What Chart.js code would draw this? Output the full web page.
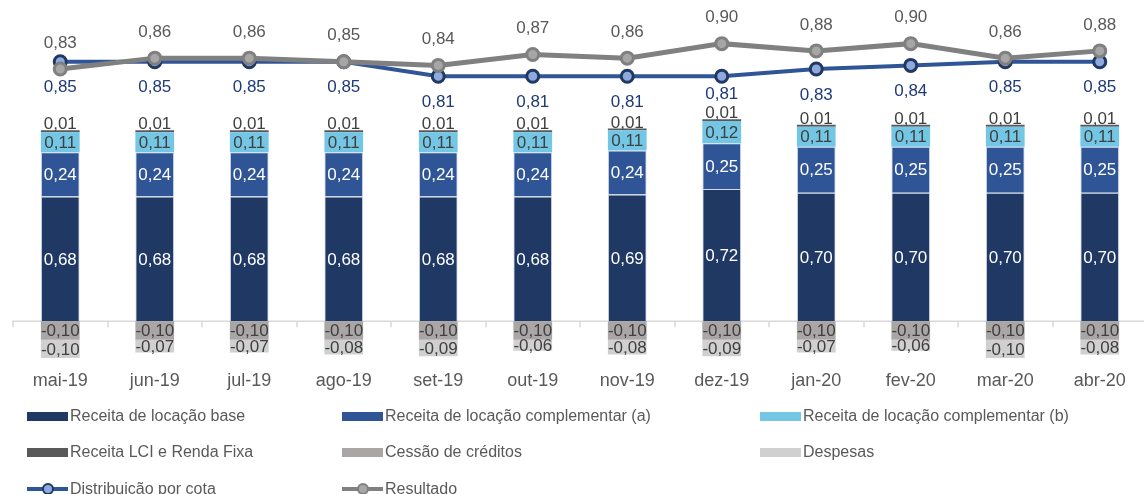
<!DOCTYPE html>
<html>
<head>
<meta charset="utf-8">
<script src="https://cdn.jsdelivr.net/npm/chart.js@4.4.0/dist/chart.umd.min.js"></script>
<style>
html,body{margin:0;padding:0;background:#fff;overflow:hidden;}
#wrap{position:relative;width:1144px;height:494px;overflow:hidden;}
#c{position:absolute;left:0;top:0;}
#legend{position:absolute;left:0;top:0;width:1144px;height:494px;pointer-events:none;font-family:'Liberation Sans',Arial,sans-serif;font-size:16px;color:#595959;}
.li{position:absolute;white-space:nowrap;height:20px;line-height:20px;}
.box{position:absolute;left:0;top:6px;width:41px;height:9px;}
.ln{position:absolute;left:0;top:8px;width:41px;height:4px;}
.dot{position:absolute;left:15px;top:4px;width:8px;height:8px;border-radius:50%;border-width:2px;border-style:solid;}
.tx{position:absolute;left:43px;top:0;}
</style>
</head>
<body>
<div id="wrap">
<canvas id="c" width="1147" height="494"></canvas>
<div id="legend"></div>
</div>
<script>
const categories = ['mai-19','jun-19','jul-19','ago-19','set-19','out-19','nov-19','dez-19','jan-20','fev-20','mar-20','abr-20'];
const receitaBase = [0.68,0.68,0.68,0.68,0.68,0.68,0.69,0.72,0.70,0.70,0.70,0.70];
const complementarA = [0.24,0.24,0.24,0.24,0.24,0.24,0.24,0.25,0.25,0.25,0.25,0.25];
const complementarB = [0.11,0.11,0.11,0.11,0.11,0.11,0.11,0.12,0.11,0.11,0.11,0.11];
const receitaLCI = [0.01,0.01,0.01,0.01,0.01,0.01,0.01,0.01,0.01,0.01,0.01,0.01];
const cessaoCreditos = [-0.10,-0.10,-0.10,-0.10,-0.10,-0.10,-0.10,-0.10,-0.10,-0.10,-0.10,-0.10];
const despesas = [-0.10,-0.07,-0.07,-0.08,-0.09,-0.06,-0.08,-0.09,-0.07,-0.06,-0.10,-0.08];
const distribuicao = [0.85,0.85,0.85,0.85,0.81,0.81,0.81,0.81,0.83,0.84,0.85,0.85];
const resultado = [0.83,0.86,0.86,0.85,0.84,0.87,0.86,0.90,0.88,0.90,0.86,0.88];

const FONT = "'Liberation Sans', Arial, sans-serif";
const fmt = v => v.toFixed(2).replace('.', ',');

const barBorder = 'rgba(205,214,232,0.9)';
const datasets = [
  {type:'bar', label:'Receita de locação base', data:receitaBase, backgroundColor:'#203864', borderColor:barBorder, borderWidth:1, order:2, yAxisID:'y', lab:{mode:'center', color:'#ffffff'}},
  {type:'bar', label:'Receita de locação complementar (a)', data:complementarA, backgroundColor:'#2F5597', borderColor:barBorder, borderWidth:1, order:2, yAxisID:'y', lab:{mode:'center', color:'#ffffff'}},
  {type:'bar', label:'Receita de locação complementar (b)', data:complementarB, backgroundColor:'#74C6E5', borderColor:barBorder, borderWidth:0, order:2, yAxisID:'y', lab:{mode:'center', color:'#404040'}},
  {type:'bar', label:'Receita LCI e Renda Fixa', data:receitaLCI, backgroundColor:'#595959', borderWidth:0, order:2, yAxisID:'y', lab:{mode:'above', color:'#404040'}},
  {type:'bar', label:'Cessão de créditos', data:cessaoCreditos, backgroundColor:'#AAA6A6', borderWidth:0, order:2, yAxisID:'y', lab:{mode:'center', color:'#404040'}},
  {type:'bar', label:'Despesas', data:despesas, backgroundColor:'#D0D0D0', borderWidth:0, order:2, yAxisID:'y', lab:{mode:'center', color:'#404040'}},
  {type:'line', label:'Distribuição por cota', data:distribuicao, borderColor:'#2F5597', borderWidth:4, pointRadius:6, pointBorderWidth:3, pointBackgroundColor:'#8EA9DB', pointBorderColor:'#1F3864', backgroundColor:'#8EA9DB', tension:0, order:1, yAxisID:'y2', lab:{mode:'below', color:'#1F3A78'}},
  {type:'line', label:'Resultado', data:resultado, borderColor:'#808080', borderWidth:5, pointRadius:6, pointBorderWidth:3, pointBackgroundColor:'#A6A6A6', pointBorderColor:'#808080', backgroundColor:'#A6A6A6', tension:0, order:0, yAxisID:'y2', lab:{mode:'pointAbove', color:'#595959'}}
];

const axisPlugin = {
  id:'zeroAxis',
  beforeDatasetsDraw(chart){
    const ctx = chart.ctx, xs = chart.scales.x, ys = chart.scales.y;
    const y0 = ys.getPixelForValue(0);
    const step = (xs.right - xs.left) / categories.length;
    ctx.save();
    ctx.strokeStyle = '#D9D9D9';
    ctx.lineWidth = 1.5;
    ctx.beginPath();
    ctx.moveTo(xs.left - 1, y0);
    ctx.lineTo(xs.right, y0);
    for (let i = 0; i <= categories.length; i++) {
      const x = Math.round(xs.getPixelForValue(0) - step/2 + i*step);
      ctx.moveTo(x, y0);
      ctx.lineTo(x, y0 + 6);
    }
    ctx.stroke();
    ctx.restore();
  }
};

const labelPlugin = {
  id:'valueLabels',
  afterDatasetsDraw(chart){
    const ctx = chart.ctx;
    ctx.save();
    ctx.font = '17px ' + FONT;
    ctx.textAlign = 'center';
    // top of the positive bar stack at each category (for label collision avoidance)
    const stackTop = categories.map((_, i) => {
      let top = Infinity;
      chart.data.datasets.forEach((ds, di) => {
        if (ds.type !== 'bar') return;
        const el = chart.getDatasetMeta(di).data[i];
        if (el) top = Math.min(top, el.y, el.base);
      });
      return top;
    });
    chart.data.datasets.forEach((ds, di) => {
      const meta = chart.getDatasetMeta(di);
      meta.data.forEach((el, i) => {
        const v = ds.data[i];
        const t = fmt(v);
        ctx.fillStyle = ds.lab.color;
        const p = el.getProps(['x','y','base'], true);
        if (ds.lab.mode === 'center') {
          ctx.textBaseline = 'middle';
          ctx.fillText(t, p.x, (p.y + p.base)/2 + 1);
        } else if (ds.lab.mode === 'above') {
          ctx.textBaseline = 'bottom';
          ctx.fillText(t, p.x, Math.min(p.y, p.base) + 3);
        } else if (ds.lab.mode === 'below') {
          ctx.textBaseline = 'middle';
          const limit = stackTop[i] + 3 - 19 - 9;
          ctx.fillText(t, p.x, Math.min(p.y + 26, limit));
        } else if (ds.lab.mode === 'pointAbove') {
          ctx.textBaseline = 'middle';
          ctx.fillText(t, p.x, p.y - 26);
        }
      });
    });
    ctx.restore();
  }
};

const chart = new Chart(document.getElementById('c'), {
  data:{labels:categories, datasets:datasets},
  options:{
    responsive:false,
    animation:false,
    layout:{autoPadding:false, padding:{left:13, right:0, top:0, bottom:94}},
    datasets:{bar:{categoryPercentage:1.0, barPercentage:0.41}},
    plugins:{legend:{display:false}, tooltip:{enabled:false}},
    scales:{
      x:{stacked:true, grid:{display:false, drawTicks:false}, border:{display:false},
         ticks:{color:'#595959', font:{size:18, family:FONT}, padding:8, maxRotation:0, autoSkip:false}},
      y:{stacked:true, display:false, min:-0.2234, max:1.7493},
      y2:{stacked:false, display:false, min:0.0204, max:1.0204}
    }
  },
  plugins:[axisPlugin, labelPlugin]
});

// HTML legend built from the chart's datasets
const legendOrder = [[0,1,2],[3,4,5],[6,7]];
const colX = [27, 342, 760];
const rowY = [406, 442, 479];
const leg = document.getElementById('legend');
legendOrder.forEach((row, r) => {
  row.forEach((di, c) => {
    const ds = chart.data.datasets[di];
    const item = document.createElement('div');
    item.className = 'li';
    item.style.left = colX[c] + 'px';
    item.style.top = rowY[r] + 'px';
    if (ds.type === 'bar') {
      const b = document.createElement('div');
      b.className = 'box';
      b.style.background = ds.backgroundColor;
      item.appendChild(b);
    } else {
      const l = document.createElement('div');
      l.className = 'ln';
      l.style.background = ds.borderColor;
      item.appendChild(l);
      const d = document.createElement('div');
      d.className = 'dot';
      d.style.background = ds.pointBackgroundColor;
      d.style.borderColor = ds.pointBorderColor;
      item.appendChild(d);
    }
    const tx = document.createElement('span');
    tx.className = 'tx';
    tx.textContent = ds.label;
    item.appendChild(tx);
    leg.appendChild(item);
  });
});
</script>
</body>
</html>
